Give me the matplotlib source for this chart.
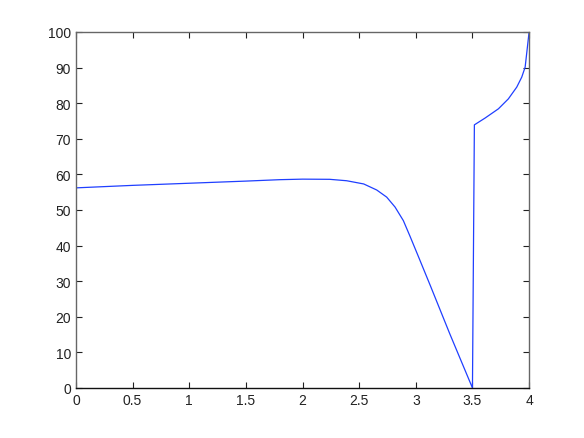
import matplotlib
matplotlib.use("Agg")
import matplotlib.pyplot as plt

# values
x = [0, 0.5, 1, 1.5, 1.8, 2.0, 2.24, 2.39, 2.54, 2.655, 2.743, 2.817,
     2.89, 2.949, 3.023, 3.13, 3.3, 3.5, 3.517, 3.611, 3.729, 3.817,
     3.891, 3.935, 3.965, 4]
y = [56.2, 56.9, 57.5, 58.1, 58.5, 58.65, 58.6, 58.2, 57.3, 55.6, 53.6,
     50.8, 47.0, 42.6, 36.9, 28.6, 15.2, 0, 73.9, 75.8, 78.4, 81.2,
     84.5, 87.3, 90.1, 100]

xticks = [0, 0.5, 1, 1.5, 2, 2.5, 3, 3.5, 4]
xticklabels = ["0", "0.5", "1", "1.5", "2", "2.5", "3", "3.5", "4"]
yticks = list(range(0, 101, 10))

plt.rcParams['font.family'] = ['Liberation Sans', 'DejaVu Sans']

fig = plt.figure(figsize=(5.84, 4.39), dpi=100)
ax = fig.add_axes([0.13, 0.114, 0.776, 0.811])
ax.plot(x, y, color='#1f3fff', linewidth=0.9)

ax.set_xlim(0, 4)
ax.set_ylim(0, 100)
ax.set_xticks(xticks)
ax.set_xticklabels(xticklabels)
ax.set_yticks(yticks)
ax.tick_params(direction='in', top=True, right=True, length=4,
               width=0.8, labelsize=10, colors='#222222')
for s in ax.spines.values():
    s.set_color('#666666')
    s.set_linewidth(1.0)
ax.spines['bottom'].set_color('#111111')

fig.savefig("out.png", dpi=100)
